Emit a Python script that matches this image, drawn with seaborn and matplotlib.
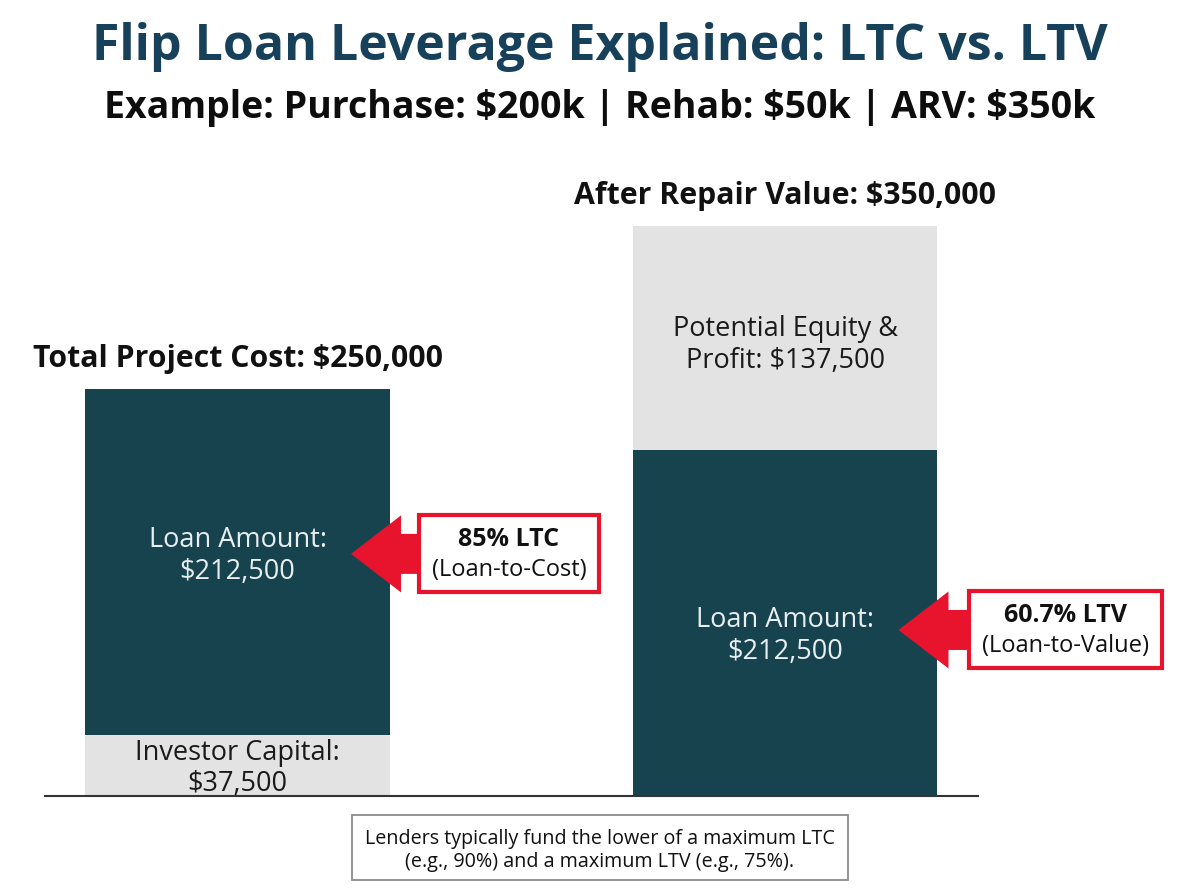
import matplotlib
matplotlib.use("Agg")
import matplotlib.pyplot as plt
from matplotlib.patches import FancyArrow, Rectangle
import seaborn as sns
import pandas as pd

# ---- data ----
categories = ["Total Project Cost", "After Repair Value"]
lower_values = [37500, 212500]
upper_values = [212500, 137500]
lower_labels = ["Investor Capital:", "Loan Amount:"]
upper_labels = ["Loan Amount:", "Potential Equity &\nProfit:"]
total_labels = ["Total Project Cost: $250,000", "After Repair Value: $350,000"]
ratio_titles = ["85% LTC", "60.7% LTV"]
ratio_subtitles = ["(Loan-to-Cost)", "(Loan-to-Value)"]
loan_segment = ["upper", "lower"]  # where the loan sits in each bar

TEAL = "#17434f"
GRAY = "#e3e3e3"
RED = "#e8132d"
TITLE = "#17415a"

sns.set_theme(style="white")
plt.rcParams["font.family"] = ["Open Sans", "DejaVu Sans"]

totals = [a + b for a, b in zip(lower_values, upper_values)]
df_total = pd.DataFrame({"cat": categories, "value": totals})
df_lower = pd.DataFrame({"cat": categories, "value": lower_values})

fig = plt.figure(figsize=(12, 8.96), dpi=100)
ax = fig.add_axes([45 / 1200, 100 / 896, 933 / 1200, 570 / 896])

BW = 0.557
sns.barplot(data=df_total, x="cat", y="value", hue="cat",
            palette={categories[0]: TEAL, categories[1]: GRAY},
            width=BW, dodge=False, legend=False, ax=ax, saturation=1,
            edgecolor="none", linewidth=0, err_kws={"linewidth": 0})
sns.barplot(data=df_lower, x="cat", y="value", hue="cat",
            palette={categories[0]: GRAY, categories[1]: TEAL},
            width=BW, dodge=False, legend=False, ax=ax, saturation=1,
            edgecolor="none", linewidth=0, err_kws={"linewidth": 0})

ax.set_xlim(-0.3516, 1.3525)
ax.set_ylim(0, 350000)
for s in ["top", "left", "right"]:
    ax.spines[s].set_visible(False)
ax.spines["bottom"].set_color("#333333")
ax.spines["bottom"].set_linewidth(1.5)
ax.set_xticks([])
ax.set_yticks([])
ax.set_xlabel("")
ax.set_ylabel("")
ax.patch.set_alpha(0)

# pixel helpers
def dx(px):
    return px / 547.5

def dy(px):
    return px * 350000 / 570

lower_off = [-3, -13]
upper_off = [6, -7]
arrow_off = [8, -7]

for i, cat in enumerate(categories):
    lo, up = lower_values[i], upper_values[i]
    tot = lo + up
    lo_col = "#e9eef0" if loan_segment[i] == "lower" else "#1a1a1a"
    up_col = "#e9eef0" if loan_segment[i] == "upper" else "#1a1a1a"
    lo_txt = f"{lower_labels[i]}\n${lo:,.0f}"
    up_txt = f"{upper_labels[i]} ${up:,.0f}" if "\n" in upper_labels[i] else f"{upper_labels[i]}\n${up:,.0f}"
    ax.text(i, lo / 2 + dy(lower_off[i]), lo_txt, ha="center", va="center", fontsize=19.5,
            color=lo_col, linespacing=1.12 if i == 0 else 1.18, zorder=4)
    ax.text(i, lo + up / 2 + dy(upper_off[i]), up_txt, ha="center", va="center", fontsize=19.5,
            color=up_col, linespacing=1.18, zorder=4)
    ax.annotate(total_labels[i], xy=(i, tot), xytext=(0, 11), textcoords="offset points",
                ha="center", va="bottom", fontsize=21.8, fontweight="bold",
                color="#111111", annotation_clip=False)

    loan_mid = (lo + up / 2) if loan_segment[i] == "upper" else lo / 2
    ay = loan_mid + dy(arrow_off[i])
    right_edge = i + BW / 2
    tip = right_edge - dx(39)
    box_left = right_edge + dx(29 if i == 0 else 32)
    box_w = dx(180 if i == 0 else 193)
    box_h = dy(77)
    arrow = FancyArrow(box_left + dx(4), ay, tip - (box_left + dx(4)), 0,
                       width=dy(40), head_width=dy(77), head_length=dx(50),
                       length_includes_head=True, color=RED, linewidth=0, zorder=5)
    ax.add_patch(arrow)
    ax.add_patch(Rectangle((box_left, ay - box_h / 2), box_w, box_h, facecolor="white",
                           edgecolor=RED, linewidth=3, zorder=6, clip_on=False))
    cx = box_left + box_w / 2
    ax.text(cx, ay + dy(14), ratio_titles[i], ha="center", va="center", fontsize=18,
            fontweight="bold", color="#111111", zorder=7)
    ax.text(cx, ay - dy(16), ratio_subtitles[i], ha="center", va="center", fontsize=17,
            color="#111111", zorder=7)

fig.text(0.5, 1 - 47 / 896, "Flip Loan Leverage Explained: LTC vs. LTV", ha="center",
         va="center", fontsize=36, fontweight="bold", color=TITLE)
fig.text(0.5, 1 - 108 / 896, "Example: Purchase: $200k | Rehab: $50k | ARV: $350k",
         ha="center", va="center", fontsize=27, fontweight="bold", color="#0d0d0d")

fig.patches.append(Rectangle((352 / 1200, 1 - 880 / 896), 496 / 1200, 65 / 896,
                             transform=fig.transFigure, facecolor="white",
                             edgecolor="#8a8a8a", linewidth=1.3))
fig.text(600 / 1200, 1 - 850 / 896,
         "Lenders typically fund the lower of a maximum LTC\n(e.g., 90%) and a maximum LTV (e.g., 75%).",
         ha="center", va="center", fontsize=14.2, color="#111111", linespacing=1.2)

fig.savefig("out.png", dpi=100, facecolor="white")
